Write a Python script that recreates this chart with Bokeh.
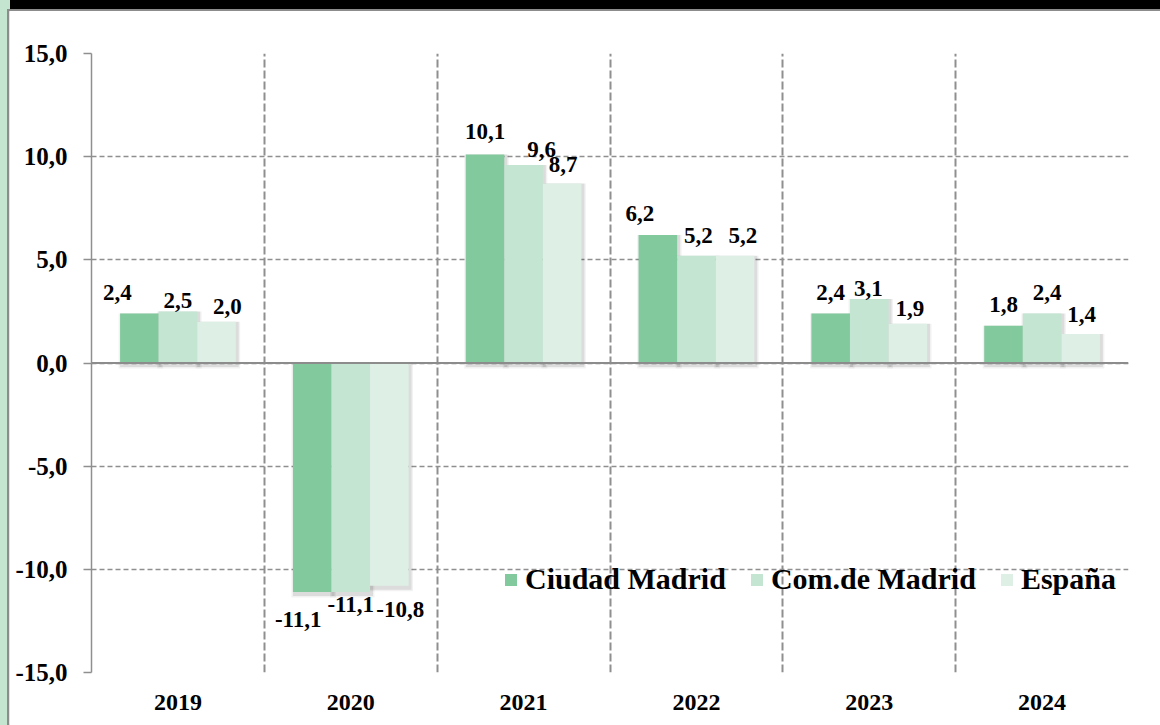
from bokeh.plotting import figure
from bokeh.models import (ColumnDataSource, FixedTicker, Span, Legend, LegendItem, Range1d,
                          GlobalInlineStyleSheet)
from bokeh.embed import file_html
from bokeh.resources import INLINE
from bokeh.core.properties import value

# ---------------- data ----------------
years = ["2019", "2020", "2021", "2022", "2023", "2024"]
series_names = ["Ciudad Madrid", "Com.de Madrid", "España"]
ciudad = [2.4, -11.1, 10.1, 6.2, 2.4, 1.8]
comunidad = [2.5, -11.1, 9.6, 5.2, 3.1, 2.4]
espana = [2.0, -10.8, 8.7, 5.2, 1.9, 1.4]
y_ticks = [-15, -10, -5, 0, 5, 10, 15]
y_tick_labels = ["-15,0", "-10,0", "-5,0", "0,0", "5,0", "10,0", "15,0"]

# ---------------- style ----------------
colors = ["#82CA9D", "#C3E5D1", "#DEF0E6"]
# per-label nudges in screen px (manual placement as in the original)
label_dx = [[-22, -14, 0, -18, 0, 0],
            [0, 0, 18, 2, -1, 5],
            [11, 11, 1, 8, 2, 1]]
label_dy = [[-21, 27, -23, -22, -21, -21],
            [-11, 12, -15, -20, -11, -21],
            [-15, 24, -19, -20, -15, -20]]

FONT = "'Liberation Serif', 'Times New Roman', Tinos, 'DejaVu Serif', serif"
GRID = "#8f8f8f"
FRAME_W, FRAME_H = 1037, 619
BL, BT = 82, 42
FIG_W, FIG_H = 1151, 713
BR = FIG_W - BL - FRAME_W
BB = FIG_H - BT - FRAME_H

n = len(years)
ux = n / FRAME_W          # data units per px (x)
uy = 30.0 / FRAME_H       # data units per px (y)
bar_w = 0.223

page_css = GlobalInlineStyleSheet(css="""
html {
  overflow: hidden !important;
  background:
    linear-gradient(#8c8c8c, #8c8c8c) 9px 9px / 100% 2px no-repeat,
    linear-gradient(#8c8c8c, #8c8c8c) 7px 9px / 2px 100% no-repeat,
    linear-gradient(#000000, #000000) 10px 0 / 100% 9px no-repeat,
    linear-gradient(#c4e6d1, #c4e6d1) 0 0 / 10px 100% no-repeat,
    #ffffff !important;
}
body {
  background: transparent !important;
  margin: 0 !important;
  padding: 11px 0 0 9px !important;
  box-sizing: border-box !important;
  overflow: hidden !important;
}
""")

p = figure(width=FIG_W, height=FIG_H,
           x_range=Range1d(0, n), y_range=Range1d(-15, 15),
           output_backend="svg", toolbar_location=None,
           min_border_left=BL, min_border_right=BR,
           min_border_top=BT, min_border_bottom=BB)
p.stylesheets = [page_css]
p.outline_line_color = None
p.background_fill_color = "white"
p.border_fill_color = "white"

# grids
p.ygrid.ticker = FixedTicker(ticks=y_ticks)
p.ygrid.grid_line_color = GRID
p.ygrid.grid_line_width = 1.5
p.ygrid.grid_line_dash = "5 3"
p.xgrid.ticker = FixedTicker(ticks=[i + 1 for i in range(n)])
p.xgrid.grid_line_color = GRID
p.xgrid.grid_line_width = 2
p.xgrid.grid_line_dash = "8 3"

# y axis
p.yaxis.ticker = FixedTicker(ticks=y_ticks)
p.yaxis.major_label_overrides = dict(zip(y_ticks, y_tick_labels))
p.yaxis.axis_line_color = GRID
p.yaxis.axis_line_width = 1.5
p.yaxis.major_tick_line_color = GRID
p.yaxis.major_tick_line_width = 1.5
p.yaxis.major_tick_out = 8
p.yaxis.major_tick_in = 0
p.yaxis.minor_tick_line_color = None
p.yaxis.major_label_standoff = 16
p.yaxis.major_label_text_font = FONT
p.yaxis.major_label_text_font_style = "bold"
p.yaxis.major_label_text_font_size = "25px"
p.yaxis.major_label_text_color = "black"

# x axis
centers = [i + 0.5 for i in range(n)]
p.xaxis.ticker = FixedTicker(ticks=centers)
p.xaxis.major_label_overrides = dict(zip(centers, years))
p.xaxis.axis_line_color = None
p.xaxis.major_tick_line_color = None
p.xaxis.minor_tick_line_color = None
p.xaxis.major_label_standoff = 16
p.xaxis.major_label_text_font = FONT
p.xaxis.major_label_text_font_style = "bold"
p.xaxis.major_label_text_font_size = "24px"
p.xaxis.major_label_text_color = "black"

series = [ciudad, comunidad, espana]

# shadows
for j, vals in enumerate(series):
    xs = [c + (j - 1) * bar_w for c in centers]
    for grow, alpha in ((3.0, 0.05), (1.5, 0.09)):
        left = [x - bar_w / 2 - (grow - 1.5) * ux for x in xs]
        right = [x + bar_w / 2 + (1.5 + grow) * ux for x in xs]
        top = [v if v > 0 else 0 for v in vals]
        bottom = [(0 if v > 0 else v) - (2.5 + grow) * uy for v in vals]
        p.quad(left=left, right=right, top=top, bottom=bottom,
               fill_color="black", fill_alpha=alpha, line_color=None)

# bars and labels
renderers = []
for j, vals in enumerate(series):
    xs = [c + (j - 1) * bar_w for c in centers]
    src = ColumnDataSource(dict(x=xs, top=vals,
                                text=[f"{v:.1f}".replace(".", ",") for v in vals],
                                dx=label_dx[j], dy=label_dy[j]))
    r = p.vbar(x="x", top="top", bottom=0, width=bar_w, source=src,
               fill_color=colors[j], line_color=None)
    renderers.append(r)
    p.text(x="x", y="top", text="text", x_offset="dx", y_offset="dy", source=src,
           text_align="center", text_baseline="middle",
           text_font=value(FONT), text_font_style="bold",
           text_font_size="23px", text_color="black")

p.add_layout(Span(location=0, dimension="width", line_color="#8c8c8c", line_width=2))

legend = Legend(items=[LegendItem(label=series_names[j], renderers=[renderers[j]])
                       for j in range(3)],
                orientation="horizontal", location=(412, 76),
                glyph_width=15, glyph_height=15, label_standoff=7, spacing=23,
                label_height=30, padding=0, margin=0,
                border_line_color=None, background_fill_alpha=0,
                label_text_font=FONT, label_text_font_style="bold",
                label_text_font_size="30px", label_text_color="black")
p.add_layout(legend)

open("out.html", "w").write(file_html(p, INLINE))
